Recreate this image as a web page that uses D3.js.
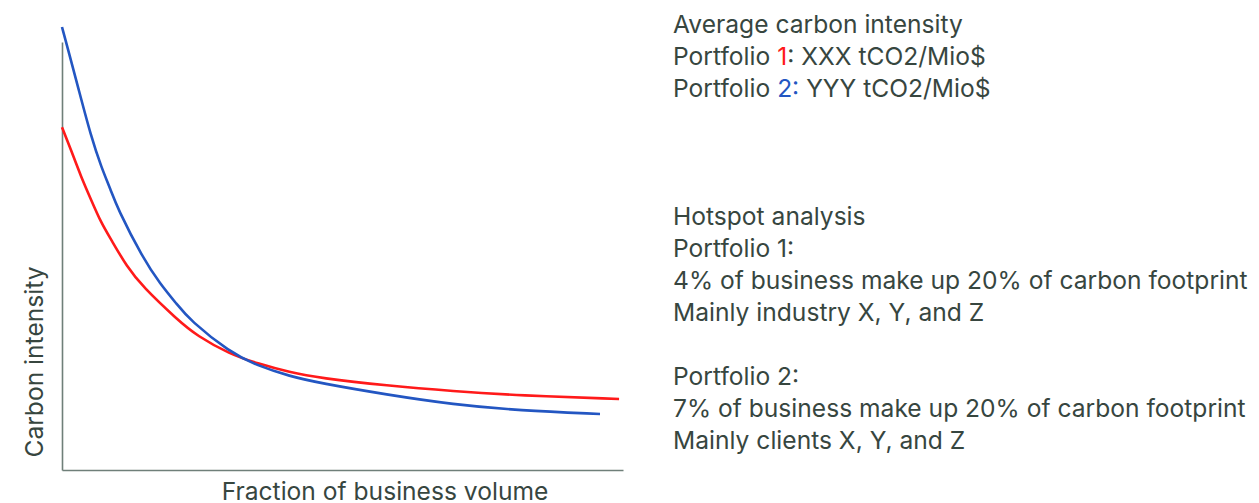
<!DOCTYPE html>
<html><head><meta charset="utf-8">
<script src="https://cdn.jsdelivr.net/npm/d3@7"></script>
<style>body{margin:0;background:#fff;} svg{display:block;}</style>
</head><body>
<svg id="c" width="1259" height="503"></svg>
<script>
// Fraction of business volume (% of axis) and carbon intensity (% of axis height)
const redX  = [0, 1.6, 3.4, 5.2, 7.0, 8.6, 11.6, 14.4, 20.5, 24.1, 29.9, 34.8, 40.6, 46.0, 57.9, 69.7, 81.6, 99.3];
const redY  = [80.1, 74.8, 68.5, 63.1, 57.7, 54.2, 47.4, 42.8, 35.2, 31.3, 27.1, 24.9, 22.8, 21.5, 19.7, 18.4, 17.4, 16.6];
const blueX = [0, 1.25, 2.85, 5.2, 7.0, 8.7, 9.8, 14.4, 17.5, 20.5, 22.8, 29.9, 34.8, 40.6, 46.0, 57.9, 69.7, 81.6, 95.9];
const blueY = [103.5, 97.4, 89.5, 77.8, 70.8, 65.4, 61.4, 49.5, 43.5, 38.7, 35.0, 27.5, 24.4, 21.9, 20.3, 17.6, 15.3, 13.9, 13.1];
const xLabel = "Fraction of business volume";
const yLabel = "Carbon intensity";
const block1 = ["Average carbon intensity", ["Portfolio ", "1", ": XXX tCO2/Mio$"], ["Portfolio ", "2:", " YYY tCO2/Mio$"]];
const block2 = ["Hotspot analysis", "Portfolio 1:", "4% of business make up 20% of carbon footprint", "Mainly industry X, Y, and Z", "", "Portfolio 2:", "7% of business make up 20% of carbon footprint", "Mainly clients X, Y, and Z"];

const svg = d3.select("#c");
const textCol = "#37463f", axisCol = "#6f7f79", red = "#ff1a1a", blue = "#2356c2";
const font = "Inter, 'Liberation Sans', sans-serif";
const fs = 24.6;
const x = d3.scaleLinear().domain([0, 100]).range([62, 623]);
const y = d3.scaleLinear().domain([0, 100]).range([470, 42]);

// axes (plain lines, no ticks)
svg.append("g").attr("transform", "translate(62,0)")
  .call(d3.axisLeft(y).tickValues([]).tickSizeOuter(0))
  .call(g => g.select(".domain").attr("stroke", axisCol).attr("stroke-width", 1.6));
svg.append("g").attr("transform", "translate(0,470)")
  .call(d3.axisBottom(x).tickValues([]).tickSizeOuter(0))
  .call(g => g.select(".domain").attr("stroke", axisCol).attr("stroke-width", 1.6));

const line = d3.line().x(d => x(d[0])).y(d => y(d[1])).curve(d3.curveBasis);
svg.append("path").datum(d3.zip(redX, redY)).attr("d", line)
  .attr("fill", "none").attr("stroke", red).attr("stroke-width", 2.6);
svg.append("path").datum(d3.zip(blueX, blueY)).attr("d", line)
  .attr("fill", "none").attr("stroke", blue).attr("stroke-width", 2.6);

svg.append("text").attr("x", 385).attr("y", 500).attr("text-anchor", "middle")
  .attr("font-family", font).attr("font-size", fs).attr("fill", textCol).text(xLabel);
svg.append("text").attr("transform", "translate(43,362) rotate(-90)").attr("text-anchor", "middle")
  .attr("font-family", font).attr("font-size", fs).attr("fill", textCol).text(yLabel);

const tx = 673;
block1.forEach((l, i) => {
  const t = svg.append("text").attr("x", tx).attr("y", 33 + i * 32)
    .attr("font-family", font).attr("font-size", fs).attr("fill", textCol);
  if (typeof l === "string") t.text(l);
  else {
    t.append("tspan").text(l[0]);
    t.append("tspan").attr("fill", i === 1 ? red : blue).text(l[1]);
    t.append("tspan").text(l[2]);
  }
});
block2.forEach((l, i) => {
  svg.append("text").attr("x", tx).attr("y", 225 + i * 32)
    .attr("font-family", font).attr("font-size", fs).attr("fill", textCol).text(l);
});
</script>
</body></html>
